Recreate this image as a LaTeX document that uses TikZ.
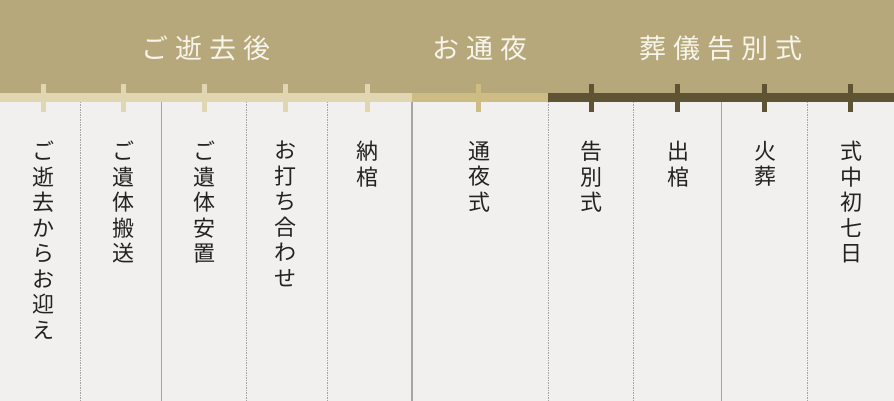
\documentclass[tikz,border=0pt]{standalone}
\usepackage{fontspec}
\newfontfamily\jp{Noto Sans CJK JP}
\definecolor{headc}{HTML}{B6A87B}
\definecolor{lightbar}{HTML}{E0D6B2}
\definecolor{midbar}{HTML}{CDBD85}
\definecolor{darkbar}{HTML}{5E5333}
\definecolor{paper}{HTML}{F1F0EE}
\definecolor{divc}{HTML}{A5A5A5}
\definecolor{ink}{HTML}{222222}
\definecolor{titlec}{HTML}{F7F4EA}
\begin{document}
\begin{tikzpicture}[x=1pt,y=-1pt,
  coltext/.style={font=\jp\fontsize{22}{25.5}\selectfont, text=ink, align=center, inner sep=0pt, anchor=north},
  titletext/.style={font=\jp\fontsize{27}{30}\selectfont, text=titlec, inner sep=0pt},
  dashdiv/.style={draw=divc, line width=0.8pt, dash pattern=on 1.5pt off 1pt},
  soliddiv/.style={draw=divc, line width=1.6pt},
  tickmark/.style={line width=5pt}
]
\useasboundingbox (0,0) rectangle (894,401);
% backgrounds
\fill[paper] (0,0) rectangle (894,401);
\fill[headc] (0,0) rectangle (894,93);
% bar
\fill[lightbar] (0,93) rectangle (412,102);
\fill[midbar] (412,93) rectangle (548,102);
\fill[darkbar] (548,93) rectangle (894,102);
% dividers
\foreach \x in {80,246.5,327.5,548,633.5,807.5} \draw[dashdiv] (\x,102) -- (\x,401);
\foreach \x in {161.5,412,721.5} \draw[soliddiv] (\x,102) -- (\x,401);
% ticks
\foreach \x in {43,123,204,285.5,367} \draw[tickmark,lightbar] (\x,84) -- (\x,112);
\draw[tickmark,midbar] (478,84) -- (478,112);
\foreach \x in {591,677.5,764.5,850.5} \draw[tickmark,darkbar] (\x,84) -- (\x,112);
% titles
\node[titletext] (t1) at (206,48) {ご\hspace{7pt}逝\hspace{7pt}去\hspace{7pt}後};
\node[titletext] (t2) at (480,48) {お\hspace{7pt}通\hspace{7pt}夜};
\node[titletext] (t3) at (721,48) {葬\hspace{7pt}儀\hspace{7pt}告\hspace{7pt}別\hspace{7pt}式};
% column texts
\node[coltext] (c1) at (43,141) {ご\\逝\\去\\か\\ら\\お\\迎\\え};
\node[coltext] (c2) at (123,141) {ご\\遺\\体\\搬\\送};
\node[coltext] (c3) at (204,141) {ご\\遺\\体\\安\\置};
\node[coltext] (c4) at (285.5,141) {お\\打\\ち\\合\\わ\\せ};
\node[coltext] (c5) at (367,141) {納\\棺};
\node[coltext] (c6) at (479,141) {通\\夜\\式};
\node[coltext] (c7) at (591,141) {告\\別\\式};
\node[coltext] (c8) at (678,141) {出\\棺};
\node[coltext] (c9) at (765,141) {火\\葬};
\node[coltext] (c10) at (851.5,141) {式\\中\\初\\七\\日};
\end{tikzpicture}
\end{document}
